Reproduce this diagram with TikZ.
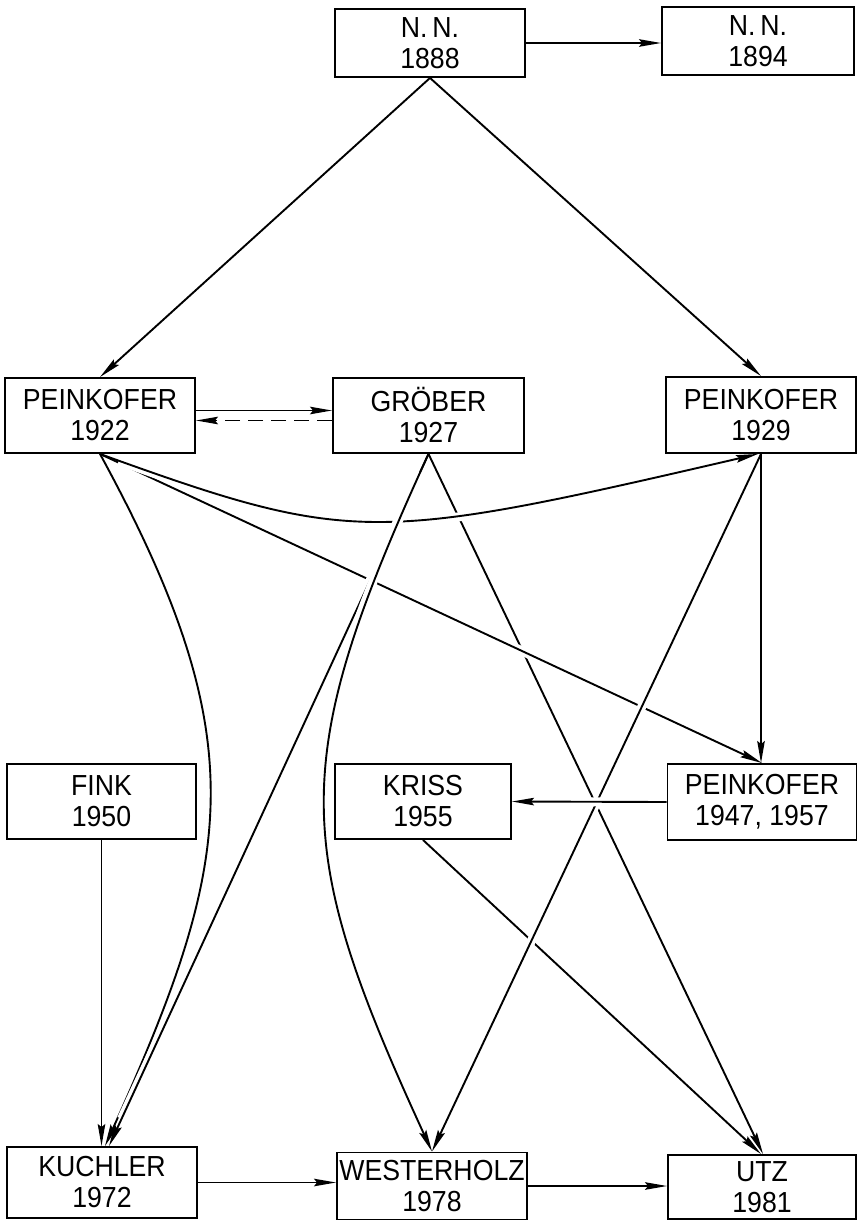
\documentclass[tikz,border=0pt]{standalone}
\usepackage{fontspec}
\setmainfont{Liberation Sans}[FakeStretch=0.92]
\usetikzlibrary{arrows.meta}
\tikzset{
  box/.style={draw, line width=1.9pt, inner sep=0pt, align=center,
    font=\fontsize{29}{31}\selectfont},
  conn/.style={line width=1.9pt, -{Stealth[length=22pt,width=7.5pt,inset=3pt]}},
  bridge/.style={conn, preaction={draw=white, line width=9pt, -, shorten <=20pt, shorten >=30pt}},
  dashconn/.style={conn, dash pattern=on 15pt off 8pt},
}
\begin{document}
\begin{tikzpicture}[x=1pt,y=-1pt]
\useasboundingbox[fill=white] (0,0) rectangle (857,1220);
% nodes
\node[box, minimum width=190pt, minimum height=68pt] (nn1888) at (430,43) {N.\,N.\\1888};
\node[box, minimum width=192pt, minimum height=68pt] (nn1894) at (758,41) {N.\,N.\\1894};
\node[box, minimum width=190pt, minimum height=75pt] (p1922) at (100,415.5) {PEINKOFER\\1922};
\node[box, minimum width=191pt, minimum height=75pt] (grober) at (428.5,415.5) {GRÖBER\\1927};
\node[box, minimum width=190pt, minimum height=76pt] (p1929) at (761,415) {PEINKOFER\\1929};
\node[box, minimum width=189pt, minimum height=75pt] (fink) at (101.5,801.5) {FINK\\1950};
\node[box, minimum width=176pt, minimum height=75pt] (kriss) at (423,801.5) {KRISS\\1955};
\node[box, minimum width=189pt, minimum height=76pt] (p1947) at (762,802) {PEINKOFER\\1947, 1957};
\node[box, minimum width=190pt, minimum height=71pt] (kuchler) at (102,1182.5) {KUCHLER\\1972};
\node[box, minimum width=190pt, minimum height=67pt] (wester) at (432,1186) {WESTERHOLZ\\1978};
\node[box, minimum width=188pt, minimum height=64pt] (utz) at (762,1187) {UTZ\\1981};
% top connectors
\draw[conn] (nn1888.east) -- (nn1888.east -| nn1894.west);
\draw[conn] (nn1888.south) -- (p1922.north);
\draw[conn] (nn1888.south) -- (p1929.north);
% P1922 <-> Groeber
\draw[conn] ([yshift=5pt]p1922.east) -- ([yshift=5pt]p1922.east -| grober.west);
\draw[dashconn] ([yshift=-5pt]p1922.east -| grober.west) -- ([yshift=-5pt]p1922.east);
% lower layer lines
\draw[conn] (grober.south) -- ([xshift=1pt]utz.north);
\draw[bridge] (p1922.south) -- (p1947.north);
\draw[conn] (kriss.south) -- ([xshift=-1pt]utz.north);
\draw[conn] (fink.south) -- (fink.south |- kuchler.north);
\draw[conn] (p1929.south) -- (p1929.south |- p1947.north);
% curve P1922 -> P1929
\draw[bridge] (p1922.south) .. controls (352,545) and (374,543) .. ([xshift=-3pt]p1929.south);
% P1922 -> Kuchler
\draw[conn] (p1922.south) .. controls (257,742) and (234,860) .. ([xshift=3pt]kuchler.north);
% Groeber -> Kuchler, Groeber -> Westerholz
\draw[bridge] (grober.south) -- ([xshift=7pt]kuchler.north);
\draw[bridge] (grober.south) .. controls (287,763) and (292,847) .. (wester.north);
% P1929 -> Westerholz
\draw[bridge] (p1929.south) -- (wester.north);
% P1947 -> Kriss
\draw[bridge] (p1947.west) -- (kriss.east);
% bottom row
\draw[conn] (kuchler.east) -- (kuchler.east -| wester.west);
\draw[conn] (wester.east) -- (wester.east -| utz.west);
\end{tikzpicture}
\end{document}
